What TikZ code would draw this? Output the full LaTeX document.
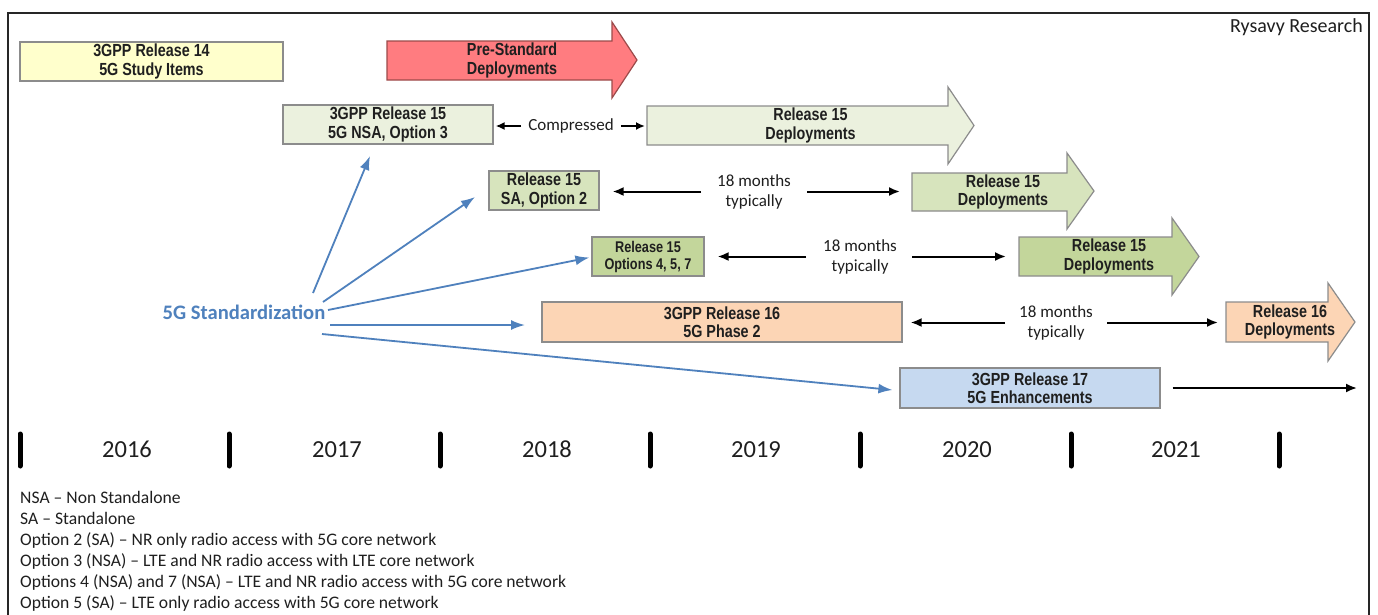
\documentclass[tikz,border=0pt]{standalone}
\usepackage{fontspec}
\setmainfont{Carlito}
\newfontfamily\narrowfont[FakeStretch=0.82]{Liberation Sans}
\usetikzlibrary{arrows.meta,calc}
\definecolor{boxline}{HTML}{8C8C8C}
\definecolor{yel}{HTML}{FFFFCC}
\definecolor{redfill}{HTML}{FF7C80}
\definecolor{redline}{HTML}{9C4A4A}
\definecolor{gA}{HTML}{EBF1DE}
\definecolor{gB}{HTML}{D7E4BD}
\definecolor{gC}{HTML}{C3D69B}
\definecolor{peach}{HTML}{FCD5B5}
\definecolor{lblue}{HTML}{C6D9F0}
\definecolor{stdblue}{HTML}{4F81BD}
\definecolor{txt}{HTML}{1F1F1F}
\begin{document}
\begin{tikzpicture}[x=1pt,y=-1pt,
  box/.style={draw=boxline, line width=1.2pt, inner sep=0pt, align=center,
    font=\narrowfont\bfseries\fontsize{17.5}{18.5}\selectfont, text=txt},
  shapebox/.style={draw=boxline, line width=1.2pt, line join=miter},
  shapetext/.style={inner sep=0pt, align=center,
    font=\narrowfont\bfseries\fontsize{17.5}{18.5}\selectfont, text=txt},
  midtext/.style={inner sep=0pt, align=center, font=\fontsize{17}{20}\selectfont, text=txt},
  blk/.style={line width=2pt, black, -{Latex[length=11pt,width=9pt]}},
  blks/.style={line width=1.8pt, black, -{Latex[length=9pt,width=8pt]}},
  bluearr/.style={line width=1.8pt, stdblue, -{Latex[length=14pt,width=10pt]}},
  yeartick/.style={line width=5pt, line cap=round, black},
  yeartext/.style={inner sep=0pt, anchor=base, font=\fontsize{24.5}{28}\selectfont, text=txt},
  legendtext/.style={inner sep=0pt, anchor=base west, font=\fontsize{17.6}{20}\selectfont, text=txt}]
\useasboundingbox (0,0) rectangle (1378,614);
\fill[white] (0,0) rectangle (1378,614);
% frame
\draw[line width=2.5pt, black!85] (8,616) -- (8,13) -- (1369,13) -- (1369,616);
\node[anchor=base east, inner sep=0pt, font=\fontsize{20}{22}\selectfont, text=txt] (rysavy) at (1363,32) {Rysavy Research};

% boxes
\node[box, fill=yel, minimum width=263pt, minimum height=39pt] (r14) at (151.5,61.5) {3GPP Release 14\\5G Study Items};
\node[box, fill=gA, minimum width=210pt, minimum height=39pt] (nsa) at (388,124.5) {3GPP Release 15\\5G NSA, Option 3};
\node[box, fill=gB, minimum width=110pt, minimum height=39pt] (sa) at (544,190.5) {Release 15\\SA, Option 2};
\node[box, fill=gC, minimum width=112pt, minimum height=39pt, font=\narrowfont\bfseries\fontsize{15.5}{17}\selectfont] (opts) at (648,256.5) {Release 15\\Options 4, 5, 7};
\node[box, fill=peach, minimum width=360pt, minimum height=40pt] (r16) at (722,322) {3GPP Release 16\\5G Phase 2};
\node[box, fill=lblue, minimum width=260pt, minimum height=40pt] (r17) at (1030,388) {3GPP Release 17\\5G Enhancements};

% block arrows
\draw[shapebox, draw=redline, fill=redfill] (387,41) -- (612,41) -- (612,22) -- (637,60) -- (612,98) -- (612,80) -- (387,80) -- cycle;
\node[shapetext] (pre) at (512,60.5) {Pre-Standard\\Deployments};
\draw[shapebox, fill=gA] (647,106) -- (948,106) -- (948,87) -- (974,125.5) -- (948,164) -- (948,145) -- (647,145) -- cycle;
\node[shapetext] (d1) at (810.5,125.5) {Release 15\\Deployments};
\draw[shapebox, fill=gB] (912,173) -- (1067,173) -- (1067,153) -- (1094,191) -- (1067,229) -- (1067,211) -- (912,211) -- cycle;
\node[shapetext] (d2) at (1003,192) {Release 15\\Deployments};
\draw[shapebox, fill=gC] (1019,237) -- (1172,237) -- (1172,218) -- (1199,256.5) -- (1172,295) -- (1172,276) -- (1019,276) -- cycle;
\node[shapetext] (d3) at (1109,256.5) {Release 15\\Deployments};
\draw[shapebox, fill=peach] (1226,302) -- (1328,302) -- (1328,283) -- (1355,322) -- (1328,361) -- (1328,342) -- (1226,342) -- cycle;
\node[shapetext] (d4) at (1290,322) {Release 16\\Deployments};

% middle texts
\node[midtext, inner xsep=7pt] (cmp) at (571,126) {Compressed};
\node[midtext] (m1) at (754,191.5) {18 months\\typically};
\node[midtext] (m2) at (860,256.5) {18 months\\typically};
\node[midtext] (m3) at (1056,322.5) {18 months\\typically};

\coordinate (d1w) at (645,127);
\coordinate (d2w) at (900,192);
\coordinate (d3w) at (1006,258);
\coordinate (d4w) at (1218,321);
\coordinate (endr17) at (1357,388);

\draw[blks] (cmp.west) -- ([xshift=2pt]nsa.east |- cmp.west);
\draw[blks] (cmp.east) -- (d1w |- cmp.east);
\draw[blk] ([xshift=-53pt]m1.center) -- ([xshift=13pt]sa.east |- m1.center);
\draw[blk] ([xshift=53pt]m1.center) -- (d2w |- m1.center);
\draw[blk] ([xshift=-54pt]m2.center) -- ([xshift=13pt]opts.east |- m2.center);
\draw[blk] ([xshift=52pt]m2.center) -- (d3w |- m2.center);
\draw[blk] ([xshift=-51pt]m3.center) -- ([xshift=8pt]r16.east |- m3.center);
\draw[blk] ([xshift=51pt]m3.center) -- (d4w |- m3.center);
\draw[blk] ([xshift=12pt]r17.east) -- (endr17);

% 5G Standardization
\node[inner sep=0pt, font=\bfseries\fontsize{20.6}{24}\selectfont, text=stdblue] (std) at (244,312) {5G Standardization};
\coordinate (s1) at (313,293);
\coordinate (s2) at (323,302);
\coordinate (s3) at (328,310);
\coordinate (s4) at (330,325);
\coordinate (s5) at (322,334);
\coordinate (e1) at (370,156);
\coordinate (e2) at (475,197);
\coordinate (e4) at (525,325);
\draw[bluearr] (s1) -- (e1);
\draw[bluearr] (s2) -- (e2);
\draw[bluearr] (s3) -- ([xshift=-2pt,yshift=-1pt]opts.west);
\draw[bluearr] (s4) -- (e4);
\draw[bluearr] (s5) -- ([xshift=-7pt,yshift=-2pt]r17.west);

% timeline
\foreach \x [count=\i] in {20,229,440,650,860,1071,1279}
  \draw[yeartick] (\x,434) -- (\x,466);
\node[yeartext] (y16) at (127,457.5) {2016};
\node[yeartext] (y17) at (337,457.5) {2017};
\node[yeartext] (y18) at (547,457.5) {2018};
\node[yeartext] (y19) at (756,457.5) {2019};
\node[yeartext] (y20) at (967,457.5) {2020};
\node[yeartext] (y21) at (1176,457.5) {2021};

% legend
\node[legendtext] (l1) at (20,503.5) {NSA – Non Standalone};
\node[legendtext] (l2) at (20,524.5) {SA – Standalone};
\node[legendtext] (l3) at (20,545.5) {Option 2 (SA) – NR only radio access with 5G core network};
\node[legendtext] (l4) at (20,566.5) {Option 3 (NSA) – LTE and NR radio access with LTE core network};
\node[legendtext] (l5) at (20,587.5) {Options 4 (NSA) and 7 (NSA) – LTE and NR radio access with 5G core network};
\node[legendtext] (l6) at (20,608.5) {Option 5 (SA) – LTE only radio access with 5G core network};
\end{tikzpicture}
\end{document}
